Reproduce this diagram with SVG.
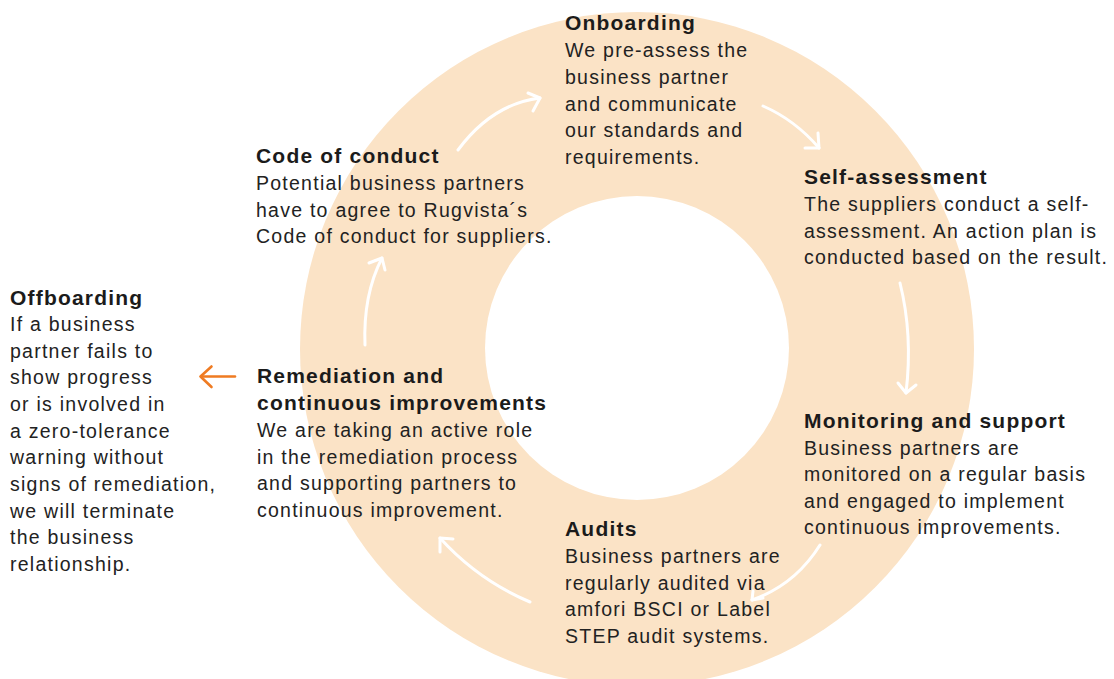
<svg xmlns="http://www.w3.org/2000/svg" width="1114" height="679" viewBox="0 0 1114 679">
  <defs>
    <style>
      .title { font-family: "Liberation Sans", Arial, sans-serif; font-weight: bold; font-size: 21px; letter-spacing: 1.2px; fill: #1b1b1b; }
      .body { font-family: "Liberation Sans", Arial, sans-serif; font-size: 19.5px; letter-spacing: 1.25px; fill: #222222; }
      .flow { fill: none; stroke: #ffffff; stroke-width: 3; stroke-linecap: round; stroke-linejoin: round; }
      .exit { fill: none; stroke: #ef7b22; stroke-width: 2.6; stroke-linecap: round; stroke-linejoin: round; }
    </style>
  </defs>

  <rect width="1114" height="679" fill="#ffffff"/>

  <!-- cycle ring -->
  <g id="ring">
    <circle cx="637" cy="349" r="337" fill="#fbe3c6"/>
    <circle cx="637" cy="348" r="152" fill="#ffffff"/>
  </g>

  <!-- connectors -->
  <g id="connectors">
    <path class="flow" d="M458,150 Q492,104 540,98"/>
    <polyline class="flow" points="528,93 540,98 533,111"/>

    <path class="flow" d="M763,106 Q795,120 819,148"/>
    <polyline class="flow" points="818,133 819,148 805,148"/>

    <path class="flow" d="M900,283 Q913,335 906,393"/>
    <polyline class="flow" points="898,383 906,393 916,385"/>

    <path class="flow" d="M820,545 Q795,585 752,600"/>
    <polyline class="flow" points="753,591 752,600 763,598"/>

    <path class="flow" d="M530,602 Q478,580 440,538"/>
    <polyline class="flow" points="453,539 440,538 440,552"/>

    <path class="flow" d="M365,345 Q363,295 382,258"/>
    <polyline class="flow" points="369,263 382,258 385,270"/>

    <line class="exit" x1="235" y1="376.5" x2="201" y2="376.5"/>
    <polyline class="exit" points="211.5,366.5 200.5,376.5 211.5,387"/>
  </g>

  <g id="onboarding">
    <text class="title" x="565" y="30">Onboarding</text>
    <text class="body" x="565" y="57">We pre-assess the</text>
    <text class="body" x="565" y="84">business partner</text>
    <text class="body" x="565" y="110.5">and communicate</text>
    <text class="body" x="565" y="137">our standards and</text>
    <text class="body" x="565" y="163.5">requirements.</text>
  </g>

  <g id="self-assessment">
    <text class="title" x="804" y="184">Self-assessment</text>
    <text class="body" x="804" y="211">The suppliers conduct a self-</text>
    <text class="body" x="804" y="237.5">assessment. An action plan is</text>
    <text class="body" x="804" y="264">conducted based on the result.</text>
  </g>

  <g id="monitoring">
    <text class="title" x="804" y="428">Monitoring and support</text>
    <text class="body" x="804" y="454.5">Business partners are</text>
    <text class="body" x="804" y="481">monitored on a regular basis</text>
    <text class="body" x="804" y="507.5">and engaged to implement</text>
    <text class="body" x="804" y="534">continuous improvements.</text>
  </g>

  <g id="audits">
    <text class="title" x="565" y="536">Audits</text>
    <text class="body" x="565" y="563">Business partners are</text>
    <text class="body" x="565" y="589.5">regularly audited via</text>
    <text class="body" x="565" y="616">amfori BSCI or Label</text>
    <text class="body" x="565" y="642.5">STEP audit systems.</text>
  </g>

  <g id="remediation">
    <text class="title" x="257" y="383">Remediation and</text>
    <text class="title" x="257" y="410">continuous improvements</text>
    <text class="body" x="257" y="437">We are taking an active role</text>
    <text class="body" x="257" y="463.5">in the remediation process</text>
    <text class="body" x="257" y="490">and supporting partners to</text>
    <text class="body" x="257" y="516.5">continuous improvement.</text>
  </g>

  <g id="code-of-conduct">
    <text class="title" x="256" y="163">Code of conduct</text>
    <text class="body" x="256" y="190">Potential business partners</text>
    <text class="body" x="256" y="216.5">have to agree to Rugvista´s</text>
    <text class="body" x="256" y="243">Code of conduct for suppliers.</text>
  </g>

  <g id="offboarding">
    <text class="title" x="10" y="305">Offboarding</text>
    <text class="body" x="10" y="331">If a business</text>
    <text class="body" x="10" y="357.5">partner fails to</text>
    <text class="body" x="10" y="384">show progress</text>
    <text class="body" x="10" y="411">or is involved in</text>
    <text class="body" x="10" y="437.5">a zero-tolerance</text>
    <text class="body" x="10" y="464">warning without</text>
    <text class="body" x="10" y="491">signs of remediation,</text>
    <text class="body" x="10" y="517.5">we will terminate</text>
    <text class="body" x="10" y="544">the business</text>
    <text class="body" x="10" y="570.5">relationship.</text>
  </g>
</svg>
